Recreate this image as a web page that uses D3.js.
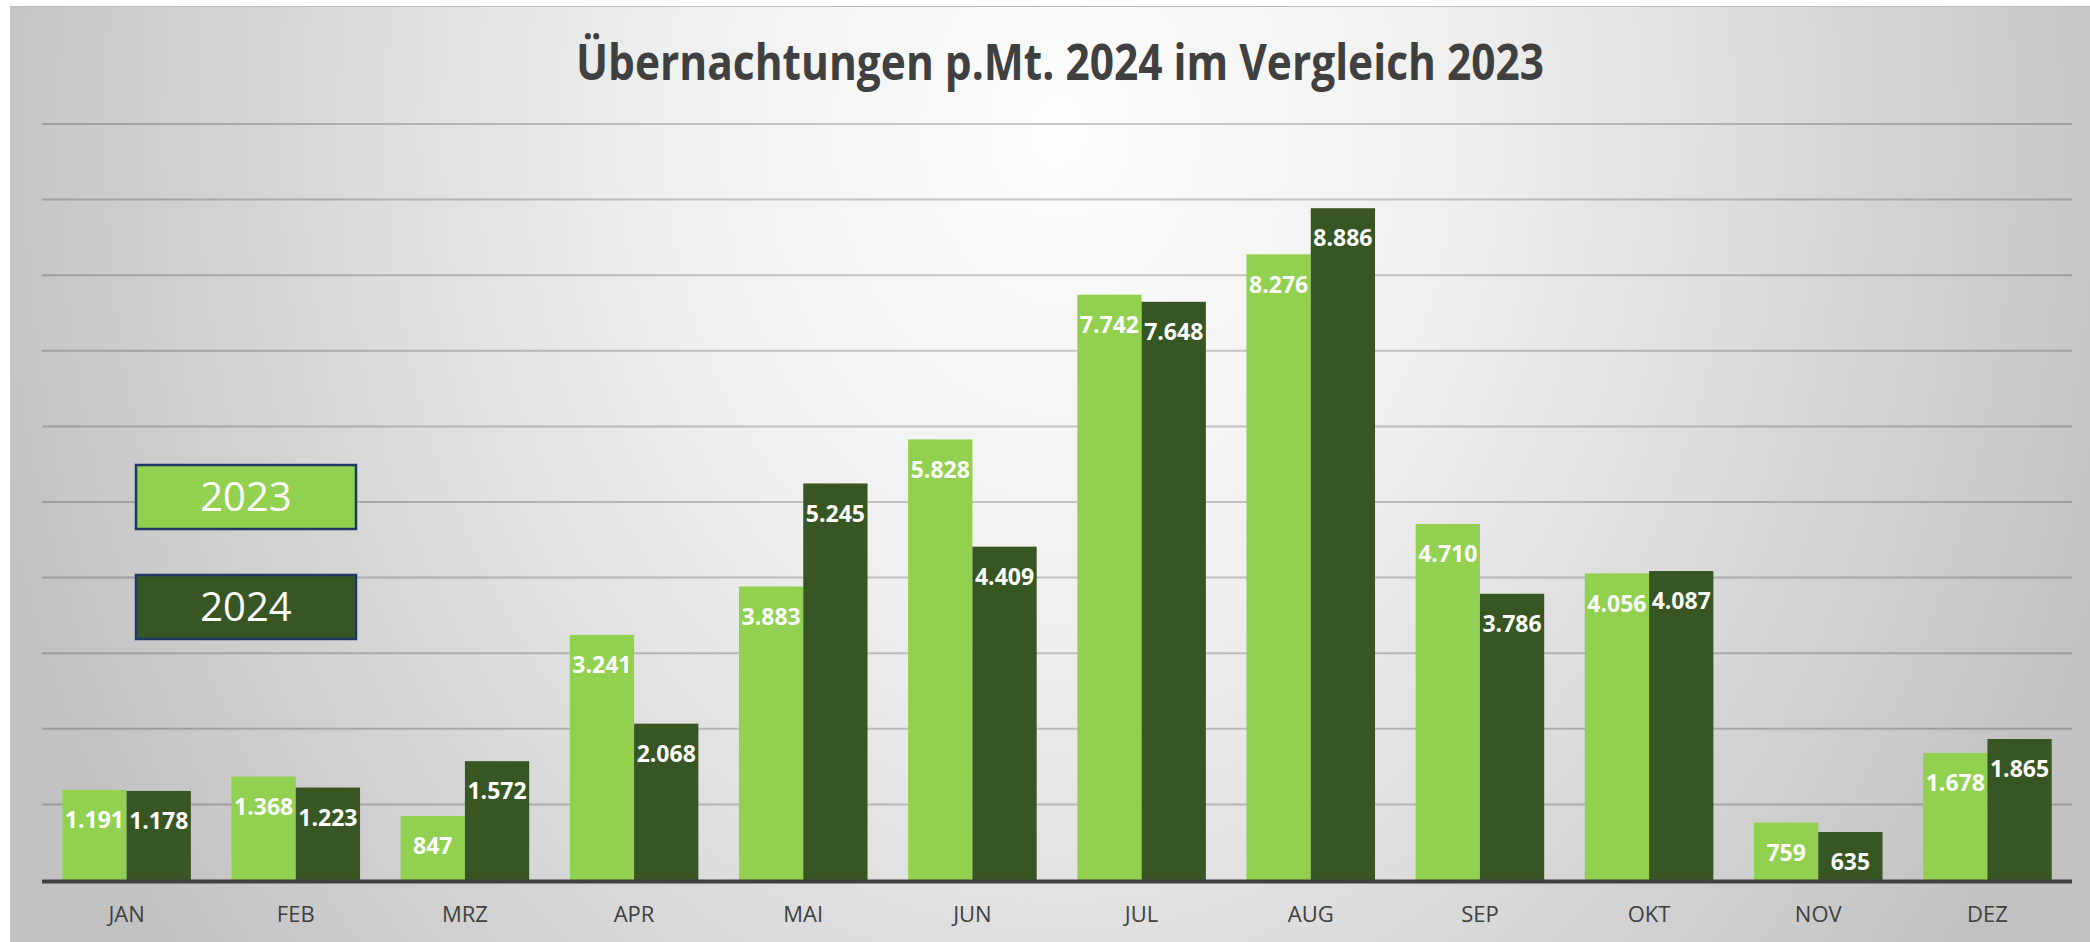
<!DOCTYPE html>
<html>
<head>
<meta charset="utf-8">
<script src="https://cdn.jsdelivr.net/npm/d3@7"></script>
<style>
  html, body { margin: 0; padding: 0; background: #ffffff; }
  svg { display: block; }
</style>
</head>
<body>
<svg id="chart" width="2090" height="942"></svg>
<script>
// ---- data ----
const titleText = "Übernachtungen p.Mt. 2024 im Vergleich 2023";
const months = ["JAN", "FEB", "MRZ", "APR", "MAI", "JUN", "JUL", "AUG", "SEP", "OKT", "NOV", "DEZ"];
const seriesNames = ["2023", "2024"];
const values2023 = [1191, 1368, 847, 3241, 3883, 5828, 7742, 8276, 4710, 4056, 759, 1678];
const values2024 = [1178, 1223, 1572, 2068, 5245, 4409, 7648, 8886, 3786, 4087, 635, 1865];
const seriesColors = ["#92d050", "#375623"];
const yTicks = [0, 1000, 2000, 3000, 4000, 5000, 6000, 7000, 8000, 9000, 10000];

const seriesValues = [values2023, values2024];

const svg = d3.select("#chart");
const W = 2090, H = 942;

// background with radial gradient (ellipse, stretched vertically)
const defs = svg.append("defs");
const grad = defs.append("radialGradient")
  .attr("id", "bg")
  .attr("gradientUnits", "userSpaceOnUse")
  .attr("cx", 1060).attr("cy", 130).attr("r", 1100)
  .attr("gradientTransform", "translate(0,130) scale(1,1.25) translate(0,-130)");
grad.append("stop").attr("offset", "0%").attr("stop-color", "#fdfdfd");
grad.append("stop").attr("offset", "35%").attr("stop-color", "#f0f0f0");
grad.append("stop").attr("offset", "100%").attr("stop-color", "#c2c2c2");

svg.append("rect").attr("x", 0).attr("y", 0).attr("width", W).attr("height", H).attr("fill", "#ffffff");
svg.append("rect").attr("x", 10).attr("y", 6).attr("width", W - 10).attr("height", H - 6)
  .attr("fill", "url(#bg)");
svg.append("line").attr("x1", 10).attr("x2", W).attr("y1", 6.5).attr("y2", 6.5)
  .attr("stroke", "#bdbdbd").attr("stroke-width", 1);

// scales
const plotLeft = 42, plotRight = 2072, plotBottom = 880, plotTop = 124;
const x0 = d3.scaleBand().domain(months).range([plotLeft, plotRight]).paddingInner(0.24).paddingOuter(0.12);
const x1 = d3.scaleBand().domain(seriesNames).range([0, x0.bandwidth()]);
const y = d3.scaleLinear().domain([0, 10000]).range([plotBottom, plotTop]);

// gridlines
svg.append("g").selectAll("line").data(yTicks.filter(d => d > 0)).join("line")
  .attr("x1", plotLeft).attr("x2", plotRight)
  .attr("y1", d => y(d)).attr("y2", d => y(d))
  .attr("stroke", "#000").attr("stroke-opacity", 0.2).attr("stroke-width", 2);

// title
svg.append("text")
  .attr("x", 1060).attr("y", 80)
  .attr("text-anchor", "middle")
  .attr("font-family", "'Open Sans', sans-serif")
  .attr("font-weight", "bold")
  .attr("font-size", 50)
  .attr("fill", "#404040")
  .attr("textLength", 968)
  .attr("lengthAdjust", "spacingAndGlyphs")
  .text(titleText);

// bars
const flat = [];
months.forEach((m, i) => {
  seriesNames.forEach((s, j) => flat.push({ month: m, series: s, value: seriesValues[j][i], color: seriesColors[j] }));
});

const gBars = svg.append("g");
gBars.selectAll("rect").data(flat).join("rect")
  .attr("x", d => x0(d.month) + x1(d.series))
  .attr("width", x1.bandwidth())
  .attr("y", d => y(d.value))
  .attr("height", d => y(0) - y(d.value))
  .attr("fill", d => d.color);

const fmt = v => d3.format(",")(v).replace(/,/g, ".");
gBars.selectAll("text").data(flat).join("text")
  .attr("x", d => x0(d.month) + x1(d.series) + x1.bandwidth() / 2)
  .attr("y", d => y(d.value) + 30)
  .attr("dy", "0.36em")
  .attr("text-anchor", "middle")
  .attr("font-family", "'Open Sans', sans-serif")
  .attr("font-weight", "bold")
  .attr("font-size", 23)
  .attr("fill", "#ffffff")
  .text(d => fmt(d.value));

// x axis line
svg.append("line")
  .attr("x1", plotLeft).attr("x2", plotRight)
  .attr("y1", y(0) + 1.5).attr("y2", y(0) + 1.5)
  .attr("stroke", "#404040").attr("stroke-width", 4);

// category labels
svg.append("g").selectAll("text").data(months).join("text")
  .attr("x", d => x0(d) + x0.bandwidth() / 2)
  .attr("y", 914)
  .attr("dy", "0.35em")
  .attr("text-anchor", "middle")
  .attr("font-family", "'Open Sans', sans-serif")
  .attr("font-size", 22)
  .attr("fill", "#404040")
  .text(d => d);

// legend boxes
const legendY = [465, 575];
const lg = svg.append("g").selectAll("g").data(seriesNames).join("g");
lg.append("rect")
  .attr("x", 136).attr("y", (d, i) => legendY[i])
  .attr("width", 220).attr("height", 64)
  .attr("fill", (d, i) => seriesColors[i])
  .attr("stroke", "#1f3864").attr("stroke-width", 2.5);
lg.append("text")
  .attr("x", 246).attr("y", (d, i) => legendY[i] + 32)
  .attr("dy", "0.36em")
  .attr("text-anchor", "middle")
  .attr("font-family", "'Open Sans', sans-serif")
  .attr("font-size", 40)
  .attr("fill", "#ffffff")
  .text(d => d);
</script>
</body>
</html>
